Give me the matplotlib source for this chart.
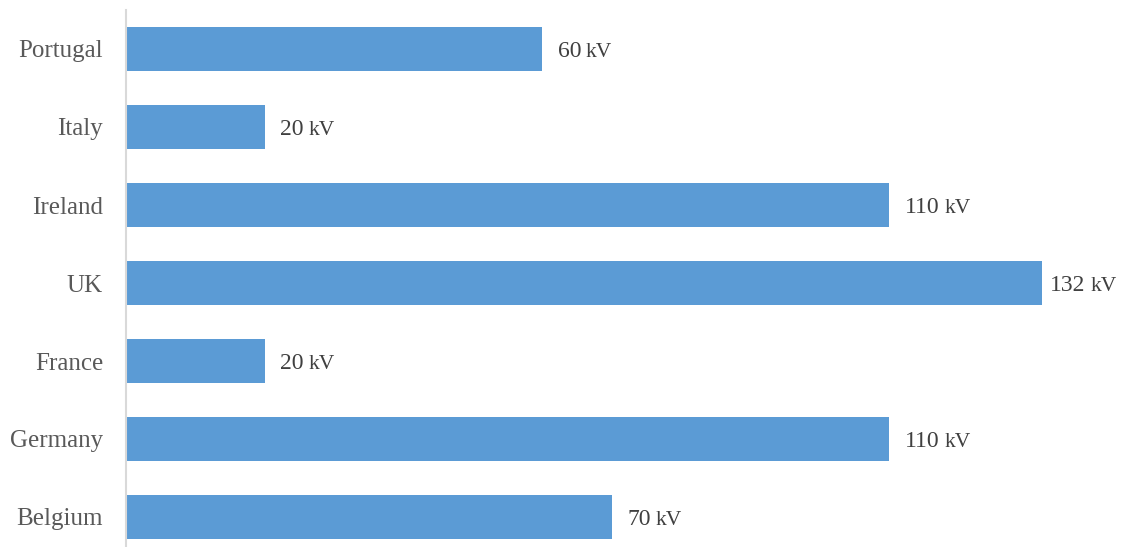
import matplotlib.pyplot as plt

# data
countries = ['Belgium', 'Germany', 'France', 'UK', 'Ireland', 'Italy', 'Portugal']
voltages = [70, 110, 20, 132, 110, 20, 60]

plt.rcParams['font.family'] = ['Liberation Serif', 'DejaVu Serif']

fig = plt.figure(figsize=(11.22, 5.47), dpi=100)
ax = fig.add_axes([126 / 1122, -9 / 547, 916 / 1122, 546 / 547])

bars = ax.barh(countries, voltages, height=0.565, color='#5B9BD5')
ax.set_xlim(0, max(voltages))
ax.set_ylim(-0.5, 6.5)

for s in ['top', 'right', 'bottom']:
    ax.spines[s].set_visible(False)
ax.spines['left'].set_color('#D9D9D9')
ax.spines['left'].set_linewidth(1.5)
ax.set_xticks([])
ax.tick_params(axis='y', length=0, pad=16.5, labelsize=18, labelcolor='#595959')

# value labels: number plus smaller unit (the longest bar's label sits closer, to fit)
for bar, v in zip(bars, voltages):
    y = bar.get_y() + bar.get_height() / 2
    dx = 6 if v == max(voltages) else 11
    num = ax.annotate(str(v), xy=(v, y), xytext=(dx, -6), textcoords='offset points',
                      ha='left', va='baseline', fontsize=17, color='#404040',
                      annotation_clip=False)
    ax.annotate('kV', xy=(1, 0), xycoords=num, xytext=(3.5, 0), textcoords='offset points',
                ha='left', va='bottom', fontsize=15.5, color='#404040')

plt.savefig('out.png', dpi=100)
